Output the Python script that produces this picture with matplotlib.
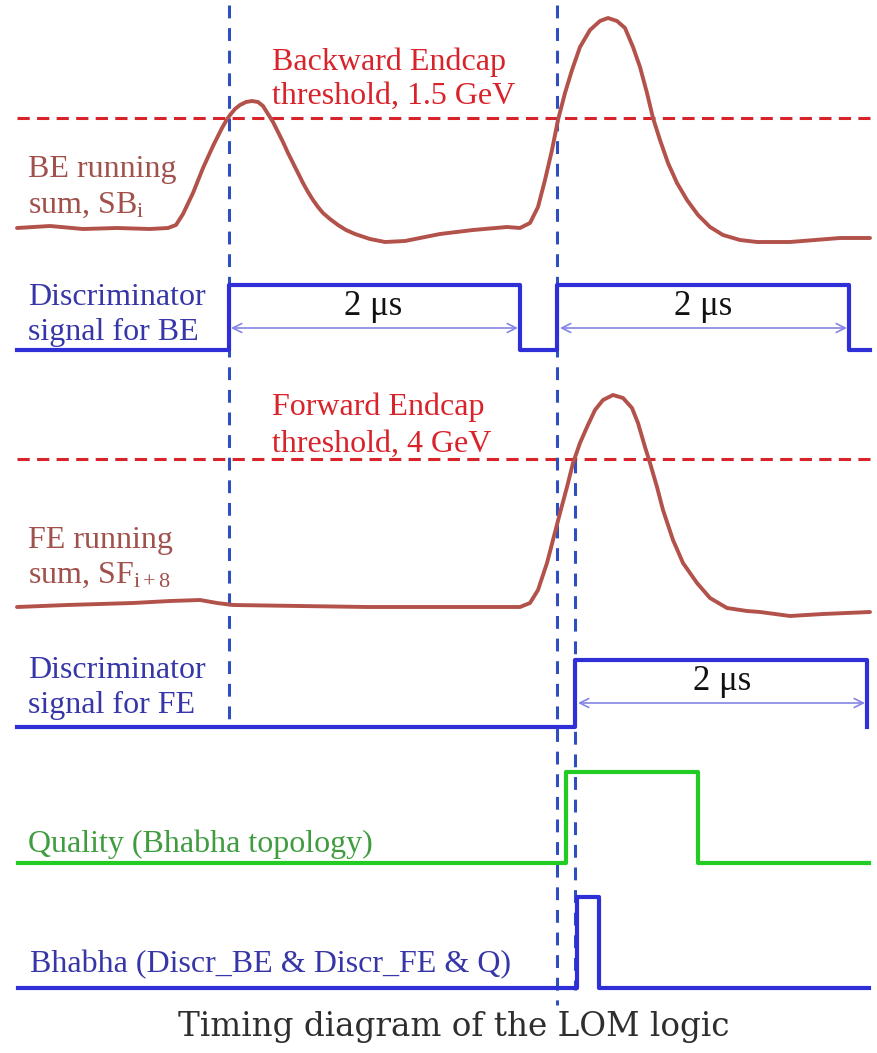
import numpy as np
import matplotlib
matplotlib.use("Agg")
import matplotlib.pyplot as plt

plt.rcParams["font.family"] = ["Liberation Serif", "DejaVu Serif"]
plt.rcParams["mathtext.fontset"] = "custom"
plt.rcParams["mathtext.rm"] = "Liberation Serif"
plt.rcParams["mathtext.it"] = "Liberation Serif:italic"

# canvas units (x: time axis, y: trace level, top-down)
W, H = 878, 1053

# BE running sum samples
be_x = [17, 50, 83, 117, 150, 168, 176, 183, 193, 203, 213, 218, 222, 226, 230, 235,
        240, 246, 252, 258, 263, 268, 273, 278, 283, 288, 293, 298, 303, 308, 313,
        318, 323, 330, 338, 346, 355, 370, 385, 405, 425, 440, 473, 507, 520, 530,
        538, 545, 552, 558, 565, 572, 580, 590, 600, 608, 617, 625, 633, 640, 647,
        653, 660, 668, 677, 687, 698, 710, 723, 740, 757, 790, 840, 870]
be_y = [228, 226, 229, 228, 229, 228, 225, 214, 193, 168, 146, 136, 128, 121, 115, 109,
        105, 102, 101, 102, 106, 114, 122, 132, 142, 153, 163, 173, 183, 192, 200,
        207, 213, 219, 225, 230, 234, 239, 242, 241, 237, 234, 230, 227, 228, 223,
        207, 180, 150, 120, 93, 70, 47, 30, 21, 18, 21, 28, 47, 67, 93,
        118, 140, 163, 183, 200, 215, 227, 235, 240, 242, 242, 238, 238]

# FE running sum samples
fe_x = [17, 67, 133, 170, 200, 217, 233, 300, 367, 440, 490, 520, 530, 538, 547, 553,
        560, 567, 573, 580, 587, 595, 603, 613, 623, 632, 638, 645, 650, 657, 663,
        673, 683, 697, 710, 727, 747, 760, 790, 823, 870]
fe_y = [607, 605, 603, 601, 600, 603, 605, 606, 607, 607, 607, 607, 603, 590, 563, 540,
        513, 487, 463, 443, 427, 410, 400, 395, 398, 408, 423, 447, 463, 487, 510,
        540, 563, 583, 598, 608, 611, 612, 616, 614, 612]

# thresholds
be_thr_y = 118
fe_thr_y = 459
thr_x = [17, 870]

# discriminator / logic signals: edge times and the level after each edge
be_disc_t = [17, 229, 520, 557, 849, 870]
be_disc_v = [350, 285, 350, 285, 350, 350]
fe_disc_t = [17, 575, 867]
fe_disc_v = [727, 660, 727]
qual_t = [18, 566, 698, 869]
qual_v = [863, 772, 863, 863]
bhabha_t = [18, 577, 599, 869]
bhabha_v = [988, 897, 988, 988]

# vertical timing markers: x, top, bottom
markers = [(229, 5, 727), (557, 5, 1005), (575, 460, 990)]

# 2 us gate arrows: y, start, end, label x, label baseline
gates = [(328, 231, 518, 373, 315), (328, 560, 847, 703, 315), (703, 578, 865, 722, 690)]

c_curve = "#b2524b"
c_curve_txt = "#a0514c"
c_red = "#d8232a"
c_blue = "#2f2fd8"
c_blue_txt = "#3636a8"
c_dash = "#2f4fc0"
c_green = "#22cc22"
c_green_txt = "#3f9c3f"
c_arrow = "#8585e6"

fig = plt.figure(figsize=(W / 100, H / 100), dpi=100)
ax = fig.add_axes([0, 0, 1, 1])
ax.set_xlim(0, W)
ax.set_ylim(H, 0)
ax.axis("off")

for yt in (be_thr_y, fe_thr_y):
    ax.plot(thr_x, [yt, yt], color=c_red, lw=2.2, dashes=(4, 2.4), zorder=2)

for xm, y0, y1 in markers:
    ax.plot([xm, xm], [y0, y1], color=c_dash, lw=2.2, dashes=(4.2, 3.2), zorder=3)

for cx, cy in ((be_x, be_y), (fe_x, fe_y)):
    ax.plot(cx, cy, color=c_curve, lw=2.8, solid_capstyle="round",
            solid_joinstyle="round", zorder=4)

for t, v, c in [(be_disc_t, be_disc_v, c_blue), (fe_disc_t, fe_disc_v, c_blue),
                (qual_t, qual_v, c_green), (bhabha_t, bhabha_v, c_blue)]:
    ax.step(t, v, where="post", color=c, lw=3.0, zorder=4)

for yg, xa, xb, xl, yl in gates:
    ax.annotate("", xy=(xb, yg), xytext=(xa, yg),
                arrowprops=dict(arrowstyle="<->", color=c_arrow, lw=1.2,
                                mutation_scale=16, shrinkA=0, shrinkB=0))
    ax.text(xl, yl, "2 μs", fontsize=25, ha="center", va="baseline", color="#111111")

fs = 23
labels = [
    (272, 70, "Backward Endcap", c_red),
    (272, 104, "threshold, 1.5 GeV", c_red),
    (28, 177, "BE running", c_curve_txt),
    (28, 213, r"sum, SB$_{\mathrm{i}}$", c_curve_txt),
    (28, 305, "Discriminator", c_blue_txt),
    (28, 340, "signal for BE", c_blue_txt),
    (272, 415, "Forward Endcap", c_red),
    (272, 452, "threshold, 4 GeV", c_red),
    (28, 548, "FE running", c_curve_txt),
    (28, 583, r"sum, SF$_{\mathrm{i+8}}$", c_curve_txt),
    (28, 678, "Discriminator", c_blue_txt),
    (28, 713, "signal for FE", c_blue_txt),
    (28, 852, "Quality (Bhabha topology)", c_green_txt),
    (30, 972, "Bhabha (Discr_BE & Discr_FE & Q)", c_blue_txt),
]
for x, y, s, c in labels:
    ax.text(x, y, s, fontsize=fs, color=c, ha="left", va="baseline", zorder=5)

ax.text(454, 1036, "Timing diagram of the LOM logic", fontsize=23.5,
        family="DejaVu Serif", color="#2e2e2e", ha="center", va="baseline")

fig.savefig("out.png", dpi=100)
